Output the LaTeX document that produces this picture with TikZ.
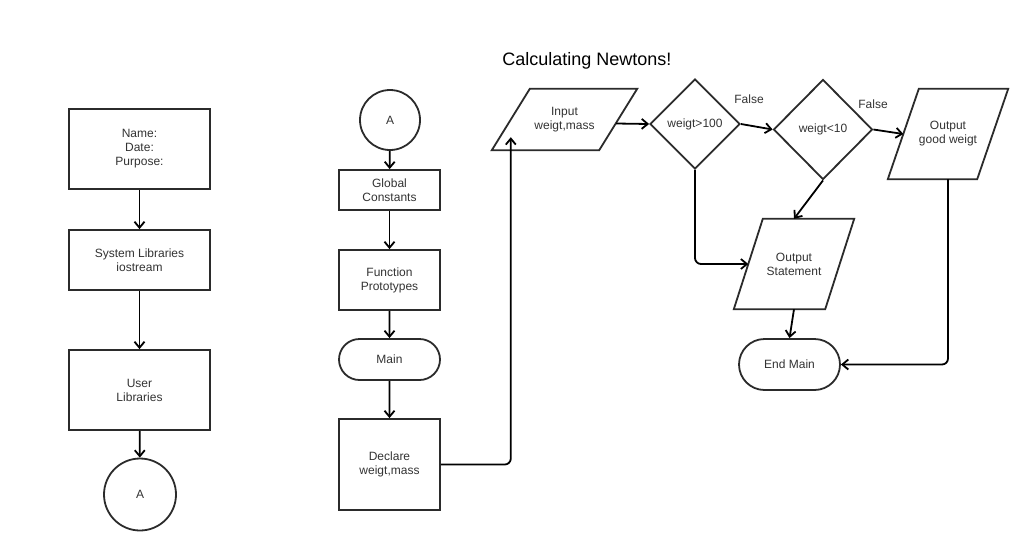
\documentclass[tikz,border=0pt]{standalone}
\usepackage{fontspec}
\setmainfont{Liberation Sans}
\usetikzlibrary{shapes.geometric,shapes.misc,arrows.meta,calc}
\definecolor{linegray}{HTML}{2B2B2B}
\definecolor{textgray}{HTML}{333333}
\begin{document}
\begin{tikzpicture}[x=1pt,y=-1pt,font=\fontsize{12}{14}\selectfont,
   box/.style={rectangle,draw=linegray,line width=1.8pt,text=textgray,align=center,inner sep=0pt},
   term/.style={box,rounded rectangle},
   conn/.style={box,circle},
   decision/.style={box,diamond},
   io/.style={rectangle,inner sep=0pt,align=center,text=textgray,
      append after command={\pgfextra{\draw[draw=linegray,line width=1.8pt]
         ($(\tikzlastnode.north west)+(#1/2,0)$) -- ($(\tikzlastnode.north east)+(#1/2,0)$) --
         ($(\tikzlastnode.south east)+(-#1/2,0)$) -- ($(\tikzlastnode.south west)+(-#1/2,0)$) -- cycle;}}},
   arrow/.style={-{Straight Barb[length=6pt,width=10pt]},line width=1.8pt,black},
   flow/.style={arrow,rounded corners=6pt}]
   \useasboundingbox[fill=white] (0,0) rectangle (1020,550);
   \node[font=\fontsize{18}{21}\selectfont,text=black] (title) at (587,61) {Calculating Newtons!};
   % header column
   \node[box,minimum width=141pt,minimum height=80pt] (header) at (139.5,149) {Name:\\Date:\\Purpose:};
   \node[box,minimum width=141pt,minimum height=60pt] (syslib) at (139.5,260) {System Libraries\\iostream};
   \node[box,minimum width=141pt,minimum height=80pt] (userlib) at (139.5,390) {User\\Libraries};
   \node[conn,minimum size=72pt] (connA) at (140,494.5) {A};
   % main column
   \node[conn,minimum size=60pt] (startA) at (390,120) {A};
   \node[box,minimum width=101pt,minimum height=40pt] (global) at (389.5,190) {Global\\Constants};
   \node[box,minimum width=101pt,minimum height=60pt] (proto) at (389.5,280) {Function\\Prototypes};
   \node[term,minimum width=101pt,minimum height=41pt] (main) at (389.5,359.5) {Main};
   \node[box,minimum width=101pt,minimum height=91pt] (declare) at (389.5,464.5) {Declare\\weigt,mass};
   % input and checks
   \node[io=38,minimum width=107pt,minimum height=61pt] (input) at (564.5,119.5) {Input\\weigt,mass};
   \node[decision,minimum width=90pt,minimum height=90pt] (big) at (695,124) {weigt>100};
   \node[decision,minimum width=99pt,minimum height=100pt] (small) at (823,129.5) {weigt<10};
   \node[io=31,minimum width=89pt,minimum height=90pt] (good) at (948,134) {Output\\good weigt};
   \node[io=29,minimum width=91pt,minimum height=90pt] (stmt) at (794,264) {Output\\Statement};
   \node[term,minimum width=101pt,minimum height=51pt] (endmain) at (789.5,364.5) {End Main};
   \node[text=textgray] (false1) at (749,99) {False};
   \node[text=textgray] (false2) at (873,104) {False};
   \coordinate (inlet) at ($(input.south west)+(0,-13)$);
   % connectors
   \draw[arrow] (header) -- (syslib);
   \draw[arrow] (syslib) -- (userlib);
   \draw[arrow] (userlib) -- (connA);
   \draw[arrow] (startA) -- (global);
   \draw[arrow] (global) -- (proto);
   \draw[arrow] (proto) -- (main);
   \draw[arrow] (main) -- (declare);
   \draw[flow] (declare.east) -| (inlet);
   \draw[arrow] ($(input.east)+(-2,4)$) -- (big.west);
   \draw[arrow] (big.east) -- (small.west);
   \draw[arrow] (small.east) -- (good.west);
   \draw[arrow] (small.south) -- (stmt.north);
   \draw[flow] (big.south) |- (stmt.west);
   \draw[arrow] (stmt.south) -- (endmain.north);
   \draw[flow] (good.south) |- (endmain.east);
\end{tikzpicture}
\end{document}
